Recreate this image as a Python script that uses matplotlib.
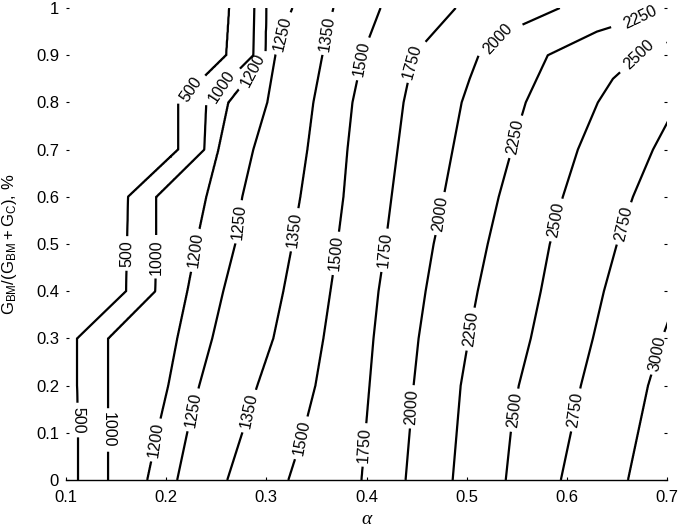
import numpy as np
import matplotlib
matplotlib.use("Agg")
import matplotlib.pyplot as plt

plt.rcParams['font.family'] = ['Liberation Sans', 'DejaVu Sans']

# rows of the share axis (y) at which contour crossings were read
y_rows = [0.0, 0.1, 0.2, 0.3, 0.4, 0.5, 0.6, 0.7, 0.8, 0.85, 0.9, 0.95, 1.0]

levels = [500, 1000, 1200, 1250, 1350, 1500, 1750, 2000, 2250, 2500, 2750, 3000]

# alpha position of each contour level on every row
x500 = [0.112, 0.112, 0.111, 0.111, 0.160, 0.161, 0.162, 0.212, 0.212, 0.236, 0.260, 0.2615, 0.263]
x1000 = [0.142, 0.142, 0.142, 0.142, 0.189, 0.190, 0.190, 0.238, 0.240, 0.2635, 0.287, 0.2875, 0.288]
x1200 = [0.181, 0.191, 0.202, 0.211, 0.221, 0.230, 0.240, 0.252, 0.262, 0.2805, 0.299, 0.2995, 0.300]
x1250 = [0.211, 0.221, 0.233, 0.246, 0.257, 0.269, 0.276, 0.287, 0.301, 0.305, 0.309, 0.317, 0.326]
x1350 = [0.261, 0.276, 0.291, 0.307, 0.317, 0.326, 0.334, 0.341, 0.347, 0.3515, 0.356, 0.361, 0.367]
x1500 = [0.322, 0.337, 0.349, 0.357, 0.364, 0.371, 0.377, 0.381, 0.386, 0.391, 0.396, 0.405, 0.414]
x1750 = [0.395, 0.399, 0.403, 0.407, 0.412, 0.419, 0.425, 0.431, 0.437, 0.442, 0.447, 0.468, 0.489]
x2000 = [0.439, 0.443, 0.447, 0.452, 0.459, 0.467, 0.477, 0.486, 0.495, 0.503, 0.512, 0.540, 0.593]
x2250 = [0.486, 0.490, 0.494, 0.502, 0.511, 0.521, 0.532, 0.545, 0.559, 0.570, 0.581, 0.630, 0.705]
x2500 = [0.539, 0.544, 0.552, 0.564, 0.574, 0.583, 0.596, 0.611, 0.631, 0.646, 0.672, 0.726, 0.800]
x2750 = [0.594, 0.604, 0.614, 0.626, 0.637, 0.650, 0.666, 0.686, 0.711, 0.725, 0.740, 0.780, 0.850]
x3000 = [0.661, 0.671, 0.681, 0.695, 0.712, 0.727, 0.742, 0.760, 0.780, 0.790, 0.800, 0.850, 0.920]

crossings = [x500, x1000, x1200, x1250, x1350, x1500, x1750, x2000,
             x2250, x2500, x2750, x3000]

xticks = [0.1, 0.2, 0.3, 0.4, 0.5, 0.6, 0.7]
xtick_labels = ['0.1', '0.2', '0.3', '0.4', '0.5', '0.6', '0.7']
yticks = [0.0, 0.1, 0.2, 0.3, 0.4, 0.5, 0.6, 0.7, 0.8, 0.9, 1.0]
ytick_labels = ['0', '0.1', '0.2', '0.3', '0.4', '0.5', '0.6', '0.7', '0.8', '0.9', '1']

# build the value grid the contour routine needs from the read crossings
xg = np.linspace(0.1, 1.0, 1801)
yg = np.linspace(0.0, 1.0, 401)
Z = np.empty((len(yg), len(xg)))
for i, yv in enumerate(yg):
    xs = [0.1] + [float(np.interp(yv, y_rows, c)) for c in crossings] + [1.0]
    zs = [0] + levels + [3500]
    Z[i] = np.interp(xg, xs, zs)

fig = plt.figure(figsize=(6.79, 5.29), dpi=100)
ax = fig.add_axes([66 / 679, 49 / 529, 601 / 679, 472 / 529])

cs = ax.contour(xg, yg, Z, levels=levels, colors='k', linewidths=1.6)

label_pos = [
    (0.111, 0.127), (0.160, 0.48), (0.2257, 0.826),
    (0.1417, 0.106), (0.189, 0.473), (0.2523, 0.837),
    (0.1873, 0.085), (0.2257, 0.487), (0.284, 0.869),
    (0.229, 0.148), (0.2723, 0.547), (0.3173, 0.946),
    (0.286, 0.145), (0.329, 0.53), (0.3623, 0.946),
    (0.339, 0.088), (0.3707, 0.48), (0.3923, 0.893),
    (0.4007, 0.074), (0.4157, 0.487), (0.4507, 0.886),
    (0.4457, 0.155), (0.4707, 0.565), (0.5307, 0.936),
    (0.502, 0.320), (0.549, 0.727), (0.6745, 0.976),
    (0.5473, 0.148), (0.589, 0.551), (0.6707, 0.904),
    (0.6107, 0.148), (0.6557, 0.544),
    (0.6923, 0.268),
]
labels = ax.clabel(cs, fmt='%d', fontsize=11.5, inline=True, inline_spacing=4,
                   manual=label_pos, colors='k')
for t in labels:
    t.set_clip_on(False)

ax.set_xlim(0.1, 0.7)
ax.set_ylim(0.0, 1.0)
ax.set_xticks(xticks)
ax.set_xticklabels(xtick_labels)
ax.set_yticks(yticks)
ax.set_yticklabels(ytick_labels)
ax.tick_params(direction='in', length=2, width=0.8, labelsize=12,
               left=True, right=True, bottom=True, top=False)
ax.tick_params(axis='x', pad=7)
ax.tick_params(axis='y', pad=5)

for side in ['top', 'right', 'left']:
    ax.spines[side].set_visible(False)
ax.spines['bottom'].set_linewidth(1.0)

ax.set_xlabel('α', fontsize=14, fontstyle='italic', family='Liberation Serif')
ax.xaxis.set_label_coords(0.5, -0.065)
ax.set_ylabel(r'$\mathregular{G_{BM}/(G_{BM} + G_{C})}$, %', fontsize=12)
ax.yaxis.set_label_coords(-0.078, 0.5)

fig.savefig('out.png', dpi=100)
